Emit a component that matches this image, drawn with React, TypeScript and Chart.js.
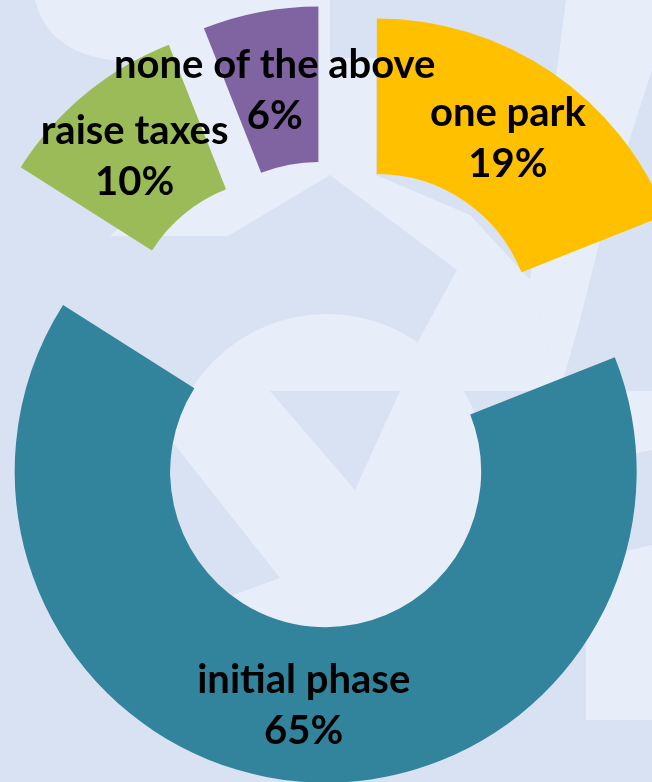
import React, { useEffect, useRef } from "react";
import { Chart, registerables } from "chart.js";

Chart.register(...registerables);

// ---- data ----
const categories = ["one park", "initial phase", "raise taxes", "none of the above"];
const percentages = [19, 65, 10, 6];
const sliceColors = ["#FFC000", "#31849B", "#9BBB59", "#8064A2"];

// ---- style ----
const W = 652;
const H = 782;
const EXPLODE = 78;
const OUTER_RADIUS = 311;
const BASE_BG = "#D9E2F3";
const LIGHT_BG = "#E8EEF9";
const LABEL_FONT = "bold 40px Lato, 'Open Sans', sans-serif";
const LINE_GAP = 51;
const LABEL_SHIFT = 2;

type Pt = [number, number];
const lightShapes: Pt[][] = [
  [[170, 58], [376, 58], [376, 175], [330, 175], [228, 236], [110, 236], [150, 200]],
  [[330, 175], [376, 175], [470, 215], [530, 280], [560, 391], [391, 391], [457, 270]],
  [[566, 0], [652, 0], [652, 70], [610, 200], [580, 320], [560, 391], [530, 280]],
  [[560, 391], [652, 391], [652, 450], [600, 460]],
  [[586, 560], [652, 545], [652, 720], [586, 720]],
];
const darkShapes: Pt[][] = [
  [[270, 391], [400, 391], [355, 490]],
  [[171, 440], [280, 578], [220, 600], [171, 560]],
];

const bgPlugin = {
  id: "bgDecor",
  beforeDraw(chart: any) {
    const ctx = chart.ctx as CanvasRenderingContext2D;
    ctx.save();
    ctx.fillStyle = BASE_BG;
    ctx.fillRect(0, 0, W, H);
    ctx.fillStyle = LIGHT_BG;
    // rounded blob at the top
    ctx.beginPath();
    ctx.moveTo(35, 0);
    ctx.quadraticCurveTo(50, 62, 140, 62);
    ctx.lineTo(330, 60);
    ctx.lineTo(330, 0);
    ctx.closePath();
    ctx.fill();
    const poly = (pts: Pt[]) => {
      ctx.beginPath();
      pts.forEach((p, i) => (i ? ctx.lineTo(p[0], p[1]) : ctx.moveTo(p[0], p[1])));
      ctx.closePath();
      ctx.fill();
    };
    lightShapes.forEach(poly);
    // donut hole area
    ctx.beginPath();
    ctx.arc(327, 474, 160, 0, Math.PI * 2);
    ctx.fill();
    ctx.fillStyle = BASE_BG;
    darkShapes.forEach(poly);
    ctx.restore();
  },
};

const explodePlugin = {
  id: "explodeSlices",
  afterDatasetsUpdate(chart: any) {
    const meta = chart.getDatasetMeta(0);
    meta.data.forEach((arc: any) => {
      const mid = (arc.startAngle + arc.endAngle) / 2;
      arc.x += Math.cos(mid) * EXPLODE;
      arc.y += Math.sin(mid) * EXPLODE;
    });
  },
};

const labelPlugin = {
  id: "sliceLabels",
  afterDatasetsDraw(chart: any) {
    const ctx = chart.ctx as CanvasRenderingContext2D;
    const meta = chart.getDatasetMeta(0);
    ctx.save();
    ctx.font = LABEL_FONT;
    ctx.fillStyle = "#000000";
    ctx.textAlign = "center";
    ctx.textBaseline = "middle";
    meta.data.forEach((arc: any, i: number) => {
      const mid = (arc.startAngle + arc.endAngle) / 2;
      const r = (arc.innerRadius + arc.outerRadius) / 2;
      const x = arc.x + Math.cos(mid) * r;
      const y = arc.y + Math.sin(mid) * r + LABEL_SHIFT;
      ctx.fillText(categories[i], x, y - LINE_GAP / 2);
      ctx.fillText(percentages[i] + "%", x, y + LINE_GAP / 2);
    });
    ctx.restore();
  },
};

export default function App() {
  const canvasRef = useRef<HTMLCanvasElement | null>(null);

  useEffect(() => {
    const canvas = canvasRef.current;
    if (!canvas) return;
    const chart = new Chart(canvas, {
      type: "doughnut",
      data: {
        labels: categories,
        datasets: [
          {
            data: percentages,
            backgroundColor: sliceColors,
            borderWidth: 0,
          },
        ],
      },
      options: {
        responsive: false,
        maintainAspectRatio: false,
        devicePixelRatio: 1,
        animation: false,
        radius: OUTER_RADIUS,
        cutout: "50%",
        rotation: 0,
        layout: { padding: { left: 14, top: 6 } },
        plugins: {
          legend: { display: false },
          tooltip: { enabled: false },
        },
      } as any,
      plugins: [bgPlugin, explodePlugin, labelPlugin],
    });
    return () => chart.destroy();
  }, []);

  return (
    <div style={{ position: "fixed", left: 0, top: 0, width: W, height: H }}>
      <canvas ref={canvasRef} width={W} height={H} style={{ display: "block" }} />
    </div>
  );
}
